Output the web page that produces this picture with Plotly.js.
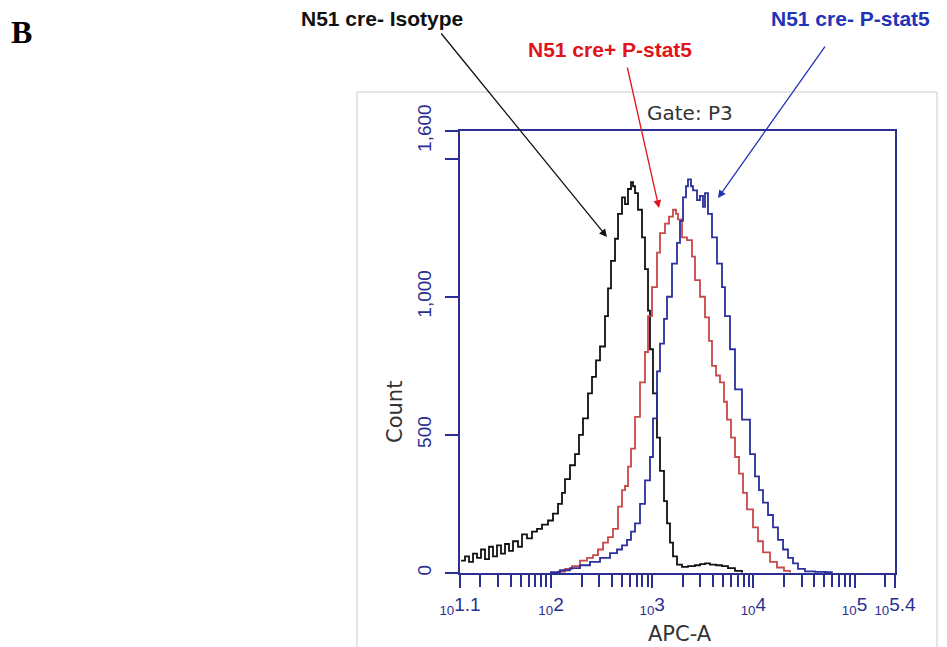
<!DOCTYPE html>
<html>
<head>
<meta charset="utf-8">
<script src="https://cdn.plot.ly/plotly-3.0.1.min.js"></script>
<style>
  html, body { margin: 0; padding: 0; background: #fff; }
  #chart { width: 947px; height: 647px; }
</style>
</head>
<body>
<div id="chart"></div>
<script>
// ---- Data (APC-A fluorescence value vs event count) ----
const isotypeX = [12.9, 14.11, 15.45, 16.93, 18.54, 20.31, 22.24, 24.36, 26.68, 29.22, 32.01, 35.06, 38.40, 42.06, 47.13, 51.63, 57.85, 64.81, 72.63, 81.39, 93.32, 104.5, 117.2, 128.3, 137.4, 153.9, 172.5, 188.9, 207.0, 231.9, 254.0, 278.2, 304.8, 341.5, 365.6, 391.5, 428.9, 459.2, 502.8, 538.3, 576.4, 617.2, 645.9, 676.0, 723.7, 792.6, 848.7, 908.8, 951.0, 1018, 1115, 1194, 1308, 1401, 1499, 1605, 1758, 1970, 2258, 2649, 2968, 3325, 3726, 4271, 4896, 5614, 6583, 7720];
const isotypeY = [45, 60, 40, 70, 55, 85, 50, 95, 60, 100, 70, 105, 80, 115, 95, 140, 125, 150, 160, 175, 190, 215, 250, 290, 340, 390, 430, 500, 560, 650, 710, 770, 820, 930, 1030, 1130, 1210, 1300, 1360, 1335, 1390, 1415, 1400, 1375, 1315, 1215, 1100, 950, 810, 650, 490, 370, 260, 180, 110, 60, 30, 22, 25, 28, 32, 35, 30, 28, 25, 18, 8, 2];

const creplusX = [114.5, 137.4, 161.1, 193.3, 226.7, 259.8, 291.2, 326.3, 365.6, 409.7, 459.2, 502.8, 538.3, 576.4, 617.2, 676.0, 757.3, 848.7, 908.8, 995.4, 1115, 1194, 1338, 1466, 1605, 1719, 1798, 1970, 2208, 2474, 2649, 2968, 3325, 3642, 3899, 4271, 4678, 5124, 5487, 6008, 6583, 7210, 7899, 8650, 9915, 11110, 12450, 14600, 17120, 20080, 23010];
const creplusY = [5, 15, 25, 45, 55, 65, 85, 110, 130, 160, 240, 300, 315, 385, 450, 565, 690, 800, 930, 1035, 1160, 1230, 1265, 1290, 1315, 1300, 1280, 1215, 1205, 1145, 1060, 1000, 925, 840, 750, 715, 690, 620, 555, 490, 420, 360, 290, 230, 165, 115, 75, 40, 20, 8, 2];

const creminusX = [97.6, 122.6, 153.9, 193.3, 242.7, 304.8, 382.6, 448.7, 502.8, 563.4, 617.2, 676.0, 757.3, 848.7, 951.0, 1018, 1115, 1194, 1308, 1401, 1569, 1758, 1883, 2016, 2158, 2258, 2418, 2531, 2773, 2968, 3177, 3325, 3560, 3899, 4370, 4896, 5242, 5873, 6583, 7720, 9262, 10380, 11370, 12450, 13950, 15630, 17520, 19640, 22000, 24650, 27620, 32380, 40670, 51050, 59870];
const creminusY = [3, 10, 18, 28, 40, 55, 72, 85, 100, 120, 150, 180, 250, 335, 420, 560, 730, 830, 920, 1000, 1120, 1195, 1275, 1360, 1400, 1425, 1400, 1385, 1350, 1365, 1325, 1375, 1300, 1215, 1120, 1035, 930, 810, 665, 555, 430, 350, 300, 255, 210, 165, 120, 85, 55, 35, 15, 6, 4, 3, 1];

const yTickVals = [0, 500, 1000, 1600];
const yTickText = ['0', '500', '1,000', '1,600'];
const yMinorVals = [1500];
const xMajorExp = [1.1, 2, 3, 4, 5, 5.4];
const xMajorText = ['1.1', '2', '3', '4', '5', '5.4'];

// ---- tick positions for log axis ----
const xTickVals = [], xTickText = [], xMinorVals = [];
xMajorExp.forEach((e, i) => { xTickVals.push(Math.pow(10, e)); xTickText.push('<sub>10</sub>' + xMajorText[i]); });
for (let d = 1; d <= 5; d++) {
  for (let m = 2; m <= 9; m++) {
    const v = m * Math.pow(10, d);
    if (v > Math.pow(10, 1.1) && v < Math.pow(10, 5.4)) xMinorVals.push(v);
  }
}

const navy = '#2b2f92';
const sans = 'Liberation Sans, Arial, sans-serif';
const wide = 'DejaVu Sans, Verdana, sans-serif';

const traces = [
  { x: isotypeX, y: isotypeY, type: 'scatter', mode: 'lines', line: { color: '#111111', width: 1.8, shape: 'hv' }, hoverinfo: 'skip' },
  { x: creplusX, y: creplusY, type: 'scatter', mode: 'lines', line: { color: '#c8484a', width: 1.8, shape: 'hv' }, hoverinfo: 'skip' },
  { x: creminusX, y: creminusY, type: 'scatter', mode: 'lines', line: { color: '#2b2f9a', width: 1.8, shape: 'hv' }, hoverinfo: 'skip' }
];

function txt(text, x, y, size, color, extra, fam) {
  return Object.assign({ text: text, xref: 'paper', yref: 'paper', x: x, y: y, xanchor: 'center', yanchor: 'middle',
    showarrow: false, font: { family: fam || sans, size: size, color: color } }, extra || {});
}
function arrow(x, y, ax, ay, color) {
  return { text: '', xref: 'paper', yref: 'paper', x: x, y: y, ax: ax, ay: ay, showarrow: true,
    arrowhead: 2, arrowsize: 1.2, arrowwidth: 1.3, arrowcolor: color };
}

const layout = {
  width: 947, height: 647,
  margin: { l: 460, r: 52, t: 131, b: 74 },
  paper_bgcolor: '#ffffff', plot_bgcolor: '#ffffff',
  showlegend: false,
  xaxis: {
    type: 'log', range: [1.1, 5.4], autorange: false,
    tickmode: 'array', tickvals: xTickVals, ticktext: xTickText,
    ticks: 'outside', ticklen: 13, tickwidth: 2, tickcolor: navy,
    minor: { tickmode: 'array', tickvals: xMinorVals, ticks: 'outside', ticklen: 12, tickwidth: 2, tickcolor: navy, showgrid: false },
    showline: true, linecolor: navy, linewidth: 2.2, mirror: true,
    showgrid: false, zeroline: false,
    tickfont: { family: sans, size: 19, color: navy }
  },
  yaxis: {
    range: [0, 1600], autorange: false,
    tickmode: 'array', tickvals: yTickVals, ticktext: yTickText, tickangle: -90,
    ticks: 'outside', ticklen: 13, tickwidth: 2, tickcolor: navy,
    minor: { tickmode: 'array', tickvals: yMinorVals, ticks: 'outside', ticklen: 13, tickwidth: 2, tickcolor: navy, showgrid: false },
    ticklabelstandoff: 6,
    showline: true, linecolor: navy, linewidth: 2.2, mirror: true,
    showgrid: false, zeroline: false,
    tickfont: { family: sans, size: 19, color: navy }
  },
  shapes: [
    { type: 'rect', xref: 'paper', yref: 'paper', x0: -0.2368, x1: 1.0966, y0: -0.2, y1: 1.0882,
      line: { color: '#cccccc', width: 1 }, fillcolor: 'rgba(0,0,0,0)', layer: 'below' }
  ],
  annotations: [
    txt('<b>B</b>', -1.0069, 1.224, 32, '#000', null, 'Liberation Serif, Times New Roman, serif'),
    txt('Gate: P3', 0.5287, 1.0407, 20, '#333', null, wide),
    txt('Count', -0.1494, 0.3643, 21, '#333', { textangle: -90 }, wide),
    txt('APC-A', 0.5057, -0.138, 21, '#333', null, wide),
    txt('<b>N51 cre- Isotype</b>', -0.1793, 1.2534, 21, '#111'),
    txt('<b>N51 cre+ P-stat5</b>', 0.3448, 1.1833, 21, '#e0151b'),
    txt('<b>N51 cre- P-stat5</b>', 0.8966, 1.2534, 21, '#2233b8'),
    arrow(0.3379, 0.7602, -167, -205, '#111'),
    arrow(0.4575, 0.8258, -32, -142, '#e0151b'),
    arrow(0.5931, 0.8484, 108, -153, '#2233b8')
  ]
};

Plotly.newPlot('chart', traces, layout, { staticPlot: true, displayModeBar: false });
</script>
</body>
</html>
